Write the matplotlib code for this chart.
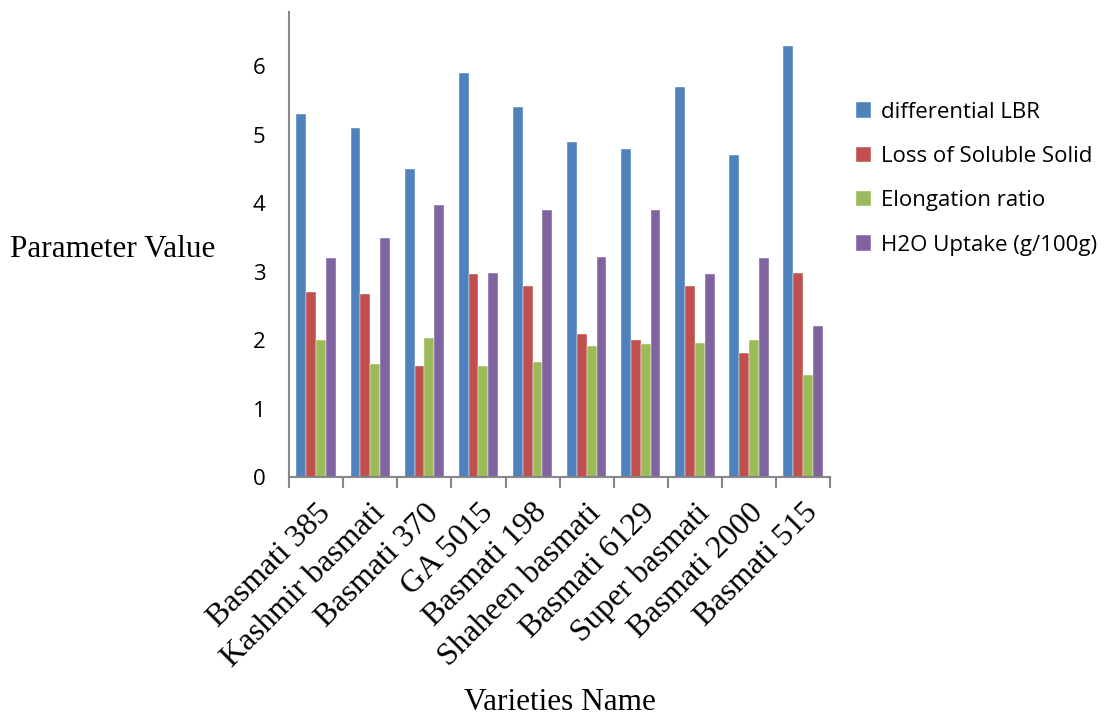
import matplotlib.pyplot as plt
import numpy as np

varieties = ["Basmati 385", "Kashmir basmati", "Basmati 370", "GA 5015", "Basmati 198",
             "Shaheen basmati", "Basmati 6129", "Super basmati", "Basmati 2000", "Basmati 515"]

diff_lbr = [5.3, 5.1, 4.5, 5.9, 5.4, 4.9, 4.8, 5.7, 4.7, 6.3]
loss_solid = [2.7, 2.67, 1.63, 2.97, 2.8, 2.09, 2.0, 2.8, 1.81, 2.99]
elong_ratio = [2.0, 1.65, 2.03, 1.63, 1.69, 1.92, 1.94, 1.96, 2.0, 1.49]
h2o_uptake = [3.2, 3.5, 3.98, 2.99, 3.9, 3.21, 3.9, 2.97, 3.2, 2.21]

series = [
    ("differential LBR", diff_lbr, "#4F81BD"),
    ("Loss of Soluble Solid", loss_solid, "#C0504D"),
    ("Elongation ratio", elong_ratio, "#9BBB59"),
    ("H2O Uptake (g/100g)", h2o_uptake, "#8064A2"),
]

bar_width = 0.182

fig = plt.figure(figsize=(11.12, 7.19), dpi=100)
ax = fig.add_axes([0.26, 0.336, 0.4865, 0.648])

x = np.arange(len(varieties))
for i, (name, vals, col) in enumerate(series):
    ax.bar(x + (i - 1.5) * bar_width, vals, width=bar_width, color=col,
           edgecolor="white", linewidth=0.3, label=name)

ax.set_xlim(-0.5, len(varieties) - 0.5)
ax.set_ylim(0, 6.8)
ax.set_yticks(range(7))
ax.tick_params(axis="y", length=0, labelsize=16, pad=17)
for t in ax.get_yticklabels():
    t.set_fontfamily("Open Sans")

# category boundaries as major ticks, names on minor ticks
ax.set_xticks(np.arange(-0.5, len(varieties)))
ax.set_xticklabels([])
ax.set_xticks(x, minor=True)
ax.set_xticklabels(varieties, minor=True, rotation=45, ha="right", va="top",
                   rotation_mode="anchor", fontfamily="Liberation Serif", fontsize=23)
ax.tick_params(axis="x", which="major", length=8, width=1.5, color="#868686", direction="out")
ax.tick_params(axis="x", which="minor", length=0, pad=15)

for s in ["top", "right"]:
    ax.spines[s].set_visible(False)
for s in ["left", "bottom"]:
    ax.spines[s].set_color("#868686")
    ax.spines[s].set_linewidth(1.5)

ax.set_ylabel("Parameter Value", rotation=0, fontfamily="Liberation Serif", fontsize=22.5,
              ha="left", va="center")
ax.yaxis.set_label_coords(-0.516, 0.49)
ax.set_xlabel("Varieties Name", fontfamily="Liberation Serif", fontsize=22.5, va="center")
ax.xaxis.set_label_coords(0.5, -0.483)

ax.legend(loc="center left", bbox_to_anchor=(1.01, 0.641), frameon=False,
          prop={"family": "Open Sans", "size": 16}, handlelength=0.7, handleheight=0.7,
          handletextpad=0.45, labelspacing=1.05)

fig.savefig("out.png", dpi=100)
